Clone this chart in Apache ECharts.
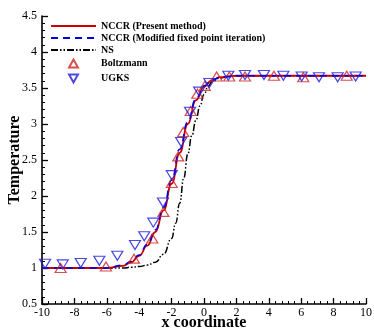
<!DOCTYPE html>
<html>
<head>
<meta charset="utf-8">
<script src="https://cdn.jsdelivr.net/npm/echarts@6/dist/echarts.min.js"></script>
<style>
  html, body { margin: 0; padding: 0; background: #fff; }
  #chart { width: 374px; height: 332px; }
</style>
</head>
<body>
<div id="chart"></div>
<script>
// x positions and temperatures
const nccrX = [-10, -6, -5, -4.5, -4, -3.5, -3, -2.5, -2, -1.5, -1, -0.5, 0, 0.5, 1, 1.5, 2, 10]
const nccrT = [1.0, 1.0, 1.03, 1.08, 1.17, 1.31, 1.5, 1.8, 2.17, 2.6, 3.0, 3.33, 3.52, 3.61, 3.65, 3.66, 3.67, 3.67]

const modX = [-10, -6, -5, -4.5, -4, -3.5, -3, -2.5, -2, -1.5, -1, -0.5, 0, 0.5, 1, 1.5, 2, 10]
const modT = [1.0, 1.0, 1.04, 1.09, 1.18, 1.33, 1.53, 1.84, 2.22, 2.65, 3.03, 3.35, 3.53, 3.61, 3.65, 3.66, 3.67, 3.67]

const nsX = [-10, -5, -4.5, -4, -3.5, -3, -2.5, -2, -1.75, -1.5, -1.25, -1, -0.75, -0.5, -0.25, 0, 0.25, 0.5, 1, 1.5, 2, 3, 10]
const nsT = [1.0, 1.0, 1.01, 1.02, 1.04, 1.08, 1.19, 1.41, 1.62, 1.9, 2.25, 2.58, 2.84, 3.05, 3.25, 3.41, 3.52, 3.59, 3.64, 3.66, 3.67, 3.67, 3.67]

const boltzX = [-8.85, -6.05, -4.32, -3.19, -2.51, -1.99, -1.59, -1.28, -0.82, -0.41, 0.05, 0.78, 1.56, 2.53, 4.32, 6.13, 8.81]
const boltzT = [1.0, 1.02, 1.13, 1.41, 1.78, 2.18, 2.55, 2.89, 3.18, 3.42, 3.53, 3.66, 3.66, 3.66, 3.67, 3.65, 3.67]

const ugksX = [-9.81, -8.72, -7.61, -6.46, -5.35, -4.26, -3.69, -3.13, -2.53, -1.99, -1.41, -0.86, -0.3, 0.33, 1.5, 2.53, 3.7, 4.9, 6.03, 7.1, 8.25, 9.36]
const ugksT = [1.06, 1.05, 1.07, 1.1, 1.17, 1.32, 1.44, 1.63, 1.91, 2.29, 2.75, 3.17, 3.45, 3.57, 3.67, 3.68, 3.68, 3.67, 3.66, 3.65, 3.65, 3.66]

const xTicks = { min: -10, max: 10, interval: 2 }
const yTicks = { min: 0.5, max: 4.5, interval: 0.5 }

const zip = (xs, ys) => xs.map((x, i) => [x, ys[i]])
const serif = '"Liberation Serif", "DejaVu Serif", serif'
const upTri = 'path://M5,0L10,9L0,9Z'
const downTri = 'path://M0,0L10,0L5,9Z'
// line legend entries: hide the symbol, keep the line
const noSymbol = { color: 'transparent', borderColor: 'transparent', borderWidth: 0 }

const chart = echarts.init(document.getElementById('chart'))

function axisCommon() {
  return {
    axisLine: { onZero: false, lineStyle: { color: '#000', width: 1.6 } },
    axisTick: { inside: true, length: 6, lineStyle: { color: '#000', width: 1.3 } },
    minorTick: { show: true, splitNumber: 5, length: 3, lineStyle: { color: '#000', width: 1 } },
    splitLine: { show: false },
    nameMoveOverlap: false,
    nameTextStyle: { color: '#000', fontFamily: serif, fontSize: 16, fontWeight: 'bold' },
  }
}

chart.setOption({
  animation: false,
  backgroundColor: '#fff',
  grid: { left: 42, right: 8, top: 16, bottom: 28, outerBoundsMode: 'none', containLabel: false },
  legend: {
    orient: 'vertical',
    left: 45,
    top: 16,
    itemWidth: 45,
    itemHeight: 8,
    itemGap: 2,
    textStyle: { color: '#000', fontFamily: serif, fontSize: 10, fontWeight: 'bold' },
    data: [
      { name: 'NCCR (Present method)', itemStyle: noSymbol },
      { name: 'NCCR (Modified fixed point iteration)', itemStyle: noSymbol },
      { name: 'NS', itemStyle: noSymbol },
      { name: 'Boltzmann', icon: upTri },
      { name: 'UGKS', icon: downTri },
    ],
  },
  xAxis: {
    type: 'value',
    ...xTicks,
    name: 'x coordinate',
    nameLocation: 'middle',
    nameGap: 11,
    ...axisCommon(),
    axisLabel: { color: '#000', fontFamily: serif, fontSize: 12, margin: 3 },
  },
  yAxis: {
    type: 'value',
    ...yTicks,
    name: 'Temperature',
    nameLocation: 'middle',
    nameGap: 19,
    ...axisCommon(),
    axisLabel: { color: '#000', fontFamily: serif, fontSize: 12, margin: 5 },
  },
  series: [
    {
      name: 'NS',
      type: 'line',
      data: zip(nsX, nsT),
      smooth: true,
      smoothMonotone: 'x',
      symbol: 'none',
      lineStyle: { color: '#000', width: 1.5, type: [7, 2, 1.5, 2, 1.5, 2] },
      itemStyle: { color: '#000' },
      z: 2,
    },
    {
      name: 'NCCR (Present method)',
      type: 'line',
      data: zip(nccrX, nccrT),
      smooth: true,
      smoothMonotone: 'x',
      symbol: 'none',
      lineStyle: { color: '#cc0000', width: 1.8 },
      itemStyle: { color: '#cc0000' },
      z: 3,
    },
    {
      name: 'NCCR (Modified fixed point iteration)',
      type: 'line',
      data: zip(modX, modT),
      smooth: true,
      smoothMonotone: 'x',
      symbol: 'none',
      lineStyle: { color: '#0000dd', width: 1.6, type: [7, 5] },
      itemStyle: { color: '#0000dd' },
      z: 4,
    },
    {
      name: 'Boltzmann',
      type: 'scatter',
      data: zip(boltzX, boltzT),
      symbol: upTri,
      symbolSize: [11, 9],
      itemStyle: { color: 'none', borderColor: '#cc2222', borderWidth: 1.2 },
      z: 5,
    },
    {
      name: 'UGKS',
      type: 'scatter',
      data: zip(ugksX, ugksT),
      symbol: downTri,
      symbolSize: [11, 9],
      itemStyle: { color: 'none', borderColor: '#1a1add', borderWidth: 1.2 },
      z: 5,
    },
  ],
})
</script>
</body>
</html>
